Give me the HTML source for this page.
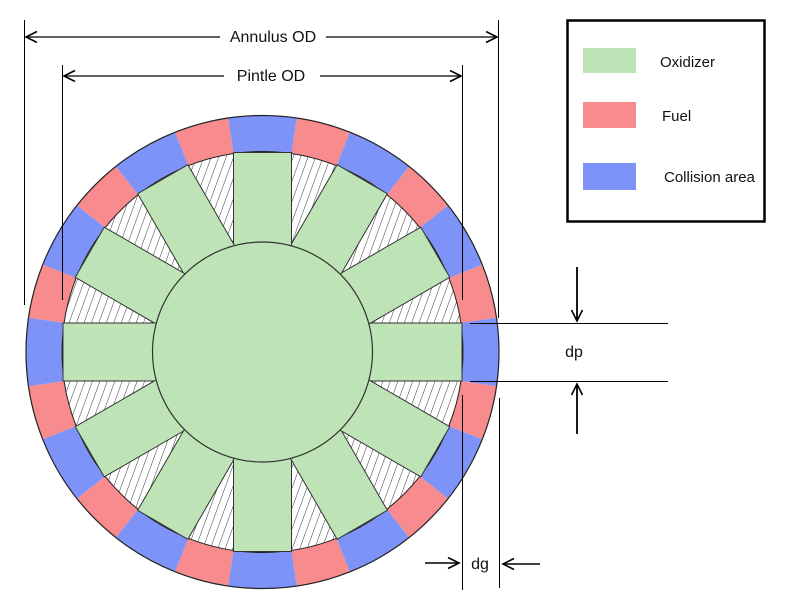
<!DOCTYPE html>
<html><head><meta charset="utf-8"><style>
html,body{margin:0;padding:0;background:#fff;}
svg{display:block;font-family:"Liberation Sans",Arial,sans-serif;}
</style></head><body>
<svg id="svg" width="810" height="611" viewBox="0 0 810 611">
<defs>
<pattern id="hatch" patternUnits="userSpaceOnUse" width="7" height="7" patternTransform="rotate(20)">
<rect width="7" height="7" fill="#fff"/><line x1="0" y1="0" x2="0" y2="7" stroke="#222" stroke-width="0.9"/>
</pattern>
<marker id="ah" markerWidth="14" markerHeight="14" refX="12" refY="6" orient="auto-start-reverse" markerUnits="userSpaceOnUse">
<path d="M1,0.5 L12,6 L1,11.5" fill="none" stroke="#000" stroke-width="1.6"/>
</marker>
</defs>
<g id="ring"></g>
<circle cx="262.5" cy="352" r="200.5" fill="url(#hatch)" stroke="#222" stroke-width="1"/>
<g id="spokes"></g>
<circle cx="262.5" cy="352" r="110" fill="#bde3b6" stroke="#333" stroke-width="1.2"/>
<circle cx="262.5" cy="352" r="236.5" fill="none" stroke="#222" stroke-width="1.2"/>

<g>
<line x1="24.5" y1="20" x2="24.5" y2="305" stroke="#000"/>
<line x1="498.5" y1="20" x2="498.5" y2="318" stroke="#000"/>
<line x1="26" y1="37" x2="220" y2="37" stroke="#000" stroke-width="1.3" marker-start="url(#ah)"/>
<line x1="326" y1="37" x2="497" y2="37" stroke="#000" stroke-width="1.3" marker-end="url(#ah)"/>
<text x="273" y="42" font-size="16" text-anchor="middle" fill="#111">Annulus OD</text>
</g>
<g>
<line x1="62.5" y1="65" x2="62.5" y2="300" stroke="#000"/>
<line x1="462.5" y1="65" x2="462.5" y2="300" stroke="#000"/>
<line x1="64" y1="76" x2="224" y2="76" stroke="#000" stroke-width="1.3" marker-start="url(#ah)"/>
<line x1="320" y1="76" x2="461" y2="76" stroke="#000" stroke-width="1.3" marker-end="url(#ah)"/>
<text x="271" y="81" font-size="16" text-anchor="middle" fill="#111">Pintle OD</text>
</g>
<g>
<line x1="470" y1="323.5" x2="668" y2="323.5" stroke="#000"/>
<line x1="470" y1="381.5" x2="668" y2="381.5" stroke="#000"/>
<line x1="577" y1="267" x2="577" y2="321" stroke="#000" stroke-width="1.8" marker-end="url(#ah)"/>
<line x1="577" y1="434" x2="577" y2="384" stroke="#000" stroke-width="1.8" marker-end="url(#ah)"/>
<text x="574" y="357" font-size="16" text-anchor="middle" fill="#111">dp</text>
</g>
<g>
<line x1="462.5" y1="395" x2="462.5" y2="590" stroke="#000"/>
<line x1="499.5" y1="398" x2="499.5" y2="588" stroke="#000"/>
<line x1="425" y1="563" x2="459" y2="563" stroke="#000" stroke-width="1.5" marker-end="url(#ah)"/>
<line x1="540" y1="564" x2="503" y2="564" stroke="#000" stroke-width="1.5" marker-end="url(#ah)"/>
<text x="480" y="569" font-size="16" text-anchor="middle" fill="#111">dg</text>
</g>
<g>
<rect x="567.5" y="20.5" width="197" height="201" fill="#fff" stroke="#000" stroke-width="2.5"/>
<rect x="583" y="48" width="53" height="25" fill="#bde3b6"/>
<text x="660" y="67" font-size="15" fill="#111">Oxidizer</text>
<rect x="583" y="102" width="53" height="26" fill="#f78b8d"/>
<text x="662" y="121" font-size="15" fill="#111">Fuel</text>
<rect x="583" y="163" width="53" height="27" fill="#7e93f7"/>
<text x="664" y="182" font-size="15" fill="#111">Collision area</text>
</g>
</svg>
<script>
const spokeAngles=[0,30,60,90,120,150,180,210,240,270,300,330];
const cx=262.5,cy=352,rIn=200.5,rOut=236.5,hw=29;
const NS="http://www.w3.org/2000/svg";
const ring=document.getElementById('ring'),spokes=document.getElementById('spokes');
function pt(r,a){const t=a*Math.PI/180;return [cx+r*Math.cos(t),cy-r*Math.sin(t)];}
function seg(a0,a1,fill){
  const p1=pt(rOut,a0),p2=pt(rOut,a1),p3=pt(rIn,a1),p4=pt(rIn,a0);
  const p=document.createElementNS(NS,'path');
  p.setAttribute('d',`M${p1} A${rOut},${rOut} 0 0 0 ${p2} L${p3} A${rIn},${rIn} 0 0 1 ${p4}Z`);
  p.setAttribute('fill',fill);
  return p;
}
const half=Math.asin(hw/rIn)*180/Math.PI;
spokeAngles.forEach((a,i)=>{
  const r=seg(a+half,a+30-half,'#f78b8d');
  
  
  ring.appendChild(r);
  const b=seg(a-half,a+half,'#7e93f7');
  
  
  ring.appendChild(b);
  const s=document.createElementNS(NS,'rect');
  s.setAttribute('x',cx);s.setAttribute('y',cy-hw);
  s.setAttribute('width',rIn-1);s.setAttribute('height',hw*2);
  s.setAttribute('fill','#bde3b6');s.setAttribute('stroke','#333');s.setAttribute('stroke-width','1');
  s.setAttribute('transform',`rotate(${-a} ${cx} ${cy})`);
  
  
  spokes.appendChild(s);
});
</script>
</body></html>
